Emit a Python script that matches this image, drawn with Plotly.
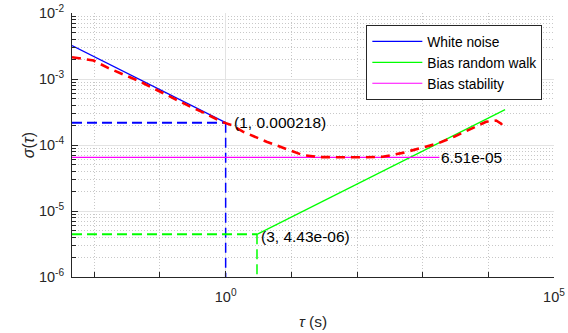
import plotly.graph_objects as go

# ---- data ----
tau_adev = [0.00457, 0.00973, 0.01644, 0.0295, 0.0499, 0.0894, 0.160, 0.270, 0.485, 0.869,
            1.233, 1.83, 4.20, 7.43, 14.95, 27.1, 54.6, 122, 246, 495, 898, 1703, 3055,
            5480, 9260, 13140, 15670, 17870]
adev = [2.14e-3, 1.905e-3, 1.46e-3, 1.153e-3, 9.12e-4, 6.82e-4, 5.10e-4, 3.94e-4, 3.02e-4, 2.25e-4,
        2.00e-4, 1.59e-4, 1.12e-4, 8.98e-5, 7.03e-5, 6.55e-5, 6.51e-5, 6.51e-5, 6.62e-5, 7.60e-5,
        8.87e-5, 1.057e-4, 1.342e-4, 1.746e-4, 2.25e-4, 2.35e-4, 2.11e-4, 1.68e-4]

tau_min = 0.00457
N_tau, N_val = 1.0, 0.000218          # white noise point
K_tau, K_val = 3.0, 4.43e-06          # bias random walk point
B_val = 6.51e-05                      # bias stability

white_tau = [tau_min, 1.0]
white_sig = [3.22e-3, 2.18e-4]
brw_tau = [3.0, 18000]
brw_sig = [4.43e-6, 3.44e-4]
bs_tau = [tau_min, 1800]
bs_sig = [B_val, B_val]

y_bottom = 1e-6
x_major = [1e0, 1e5]
x_major_text = ["10<sup>0</sup>", "10<sup>5</sup>"]
x_minor = [1e-2, 1e-1, 1e1, 1e2, 1e3, 1e4]
y_major = [1e-6, 1e-5, 1e-4, 1e-3, 1e-2]
y_major_text = ["10<sup>-6</sup>", "10<sup>-5</sup>", "10<sup>-4</sup>", "10<sup>-3</sup>", "10<sup>-2</sup>"]
y_minor = [m * 10 ** e for e in range(-6, -2) for m in range(2, 10)]

FONT = "Liberation Sans, Arial, Helvetica, sans-serif"
AX = "#262626"

fig = go.Figure()

# reference dashed guides
fig.add_trace(go.Scatter(x=[tau_min, N_tau], y=[N_val, N_val], mode="lines",
                         line=dict(color="#0000ff", width=2, dash="10px,5px"), showlegend=False))
fig.add_trace(go.Scatter(x=[N_tau, N_tau], y=[N_val, y_bottom], mode="lines",
                         line=dict(color="#0000ff", width=1.5, dash="10px,5px"), showlegend=False))
fig.add_trace(go.Scatter(x=[tau_min, K_tau], y=[K_val, K_val], mode="lines",
                         line=dict(color="#00ff00", width=2, dash="10px,5px"), showlegend=False))
fig.add_trace(go.Scatter(x=[K_tau, K_tau], y=[K_val, y_bottom], mode="lines",
                         line=dict(color="#00ff00", width=1.5, dash="10px,5px"), showlegend=False))

# fitted lines
fig.add_trace(go.Scatter(x=white_tau, y=white_sig, mode="lines", name="White noise",
                         line=dict(color="#0000ff", width=1.2)))
fig.add_trace(go.Scatter(x=brw_tau, y=brw_sig, mode="lines", name="Bias random walk",
                         line=dict(color="#00ff00", width=1.2)))
fig.add_trace(go.Scatter(x=bs_tau, y=bs_sig, mode="lines", name="Bias stability",
                         line=dict(color="#ff00ff", width=1.2)))

# Allan deviation
fig.add_trace(go.Scatter(x=tau_adev, y=adev, mode="lines",
                         line=dict(color="#ff0000", width=2.6, dash="9px,6px"), showlegend=False))

# annotations
fig.add_annotation(x=0, y=-3.6615, text="(1, 0.000218)", showarrow=False, xanchor="left",
                   yanchor="middle", xshift=6, font=dict(family=FONT, size=15.5, color="black"))
fig.add_annotation(x=0.4771, y=-5.3536, text="(3, 4.43e-06)", showarrow=False, xanchor="left",
                   yanchor="middle", xshift=2, yshift=-2, font=dict(family=FONT, size=15.5, color="black"))
fig.add_annotation(x=3.2553, y=-4.1864, text="6.51e-05", showarrow=False, xanchor="left",
                   yanchor="middle", xshift=0, font=dict(family=FONT, size=15.5, color="black"))

fig.update_layout(
    width=568, height=333,
    margin=dict(l=72, r=14, t=13, b=56, autoexpand=False),
    paper_bgcolor="white", plot_bgcolor="white",
    font=dict(family=FONT, size=14, color=AX),
    legend=dict(x=0.9758, y=0.955, xanchor="right", yanchor="top",
                bordercolor="#262626", borderwidth=1, bgcolor="white",
                font=dict(family=FONT, size=13.8, color="black"), itemwidth=50,
                tracegroupgap=0),
    xaxis=dict(type="log", range=[-2.34, 5], showline=True, linecolor=AX, linewidth=1,
               mirror=False, ticks="inside", ticklen=6, tickcolor=AX, automargin=False,
               tickmode="array", tickvals=x_major, ticktext=x_major_text,
               ticklabelstandoff=7,
               showgrid=True, gridcolor="#e3e3e3", gridwidth=1, zeroline=False,
               minor=dict(tickmode="array", tickvals=x_minor, ticks="inside", ticklen=5,
                          tickcolor=AX, showgrid=True, gridcolor="#c8c8c8", griddash="1px,2px"),
               title=dict(text="<i>τ</i> (s)", font=dict(family=FONT, size=15.5, color=AX), standoff=11),
               tickfont=dict(family=FONT, size=14.5, color=AX)),
    yaxis=dict(type="log", range=[-6, -2], showline=True, linecolor=AX, linewidth=1,
               mirror=False, ticks="inside", ticklen=6, tickcolor=AX, automargin=False,
               tickmode="array", tickvals=y_major, ticktext=y_major_text,
               ticklabelstandoff=4,
               showgrid=True, gridcolor="#e3e3e3", gridwidth=1, zeroline=False,
               minor=dict(tickmode="array", tickvals=y_minor, ticks="inside", ticklen=3.5,
                          tickcolor=AX, showgrid=True, gridcolor="#c8c8c8", griddash="1px,2px"),
               title=dict(text="<i>σ</i>(<i>τ</i>)", font=dict(family=FONT, size=16, color=AX), standoff=0),
               tickfont=dict(family=FONT, size=14.5, color=AX)),
)

fig.write_html("out.html")
